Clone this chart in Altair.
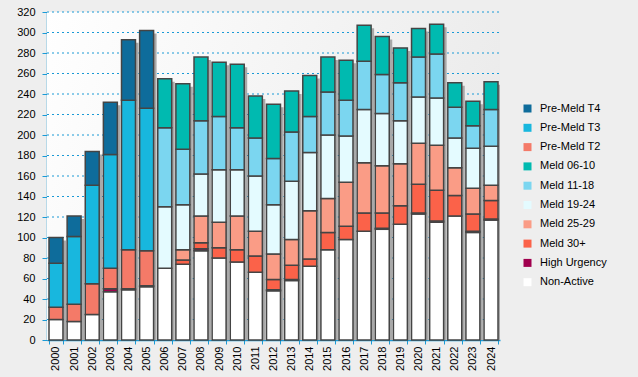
import altair as alt
import pandas as pd

years = [str(y) for y in range(2000, 2025)]

series_names = ["Pre-Meld T4", "Pre-Meld T3", "Pre-Meld T2", "Meld 06-10", "Meld 11-18",
                "Meld 19-24", "Meld 25-29", "Meld 30+", "High Urgency", "Non-Active"]
series_colors = ["#0e6c9b", "#18b7de", "#f47a68", "#00bab0", "#7bd6f0",
                 "#e4fbff", "#fa9c86", "#fb6249", "#a0004e", "#ffffff"]

y_ticks = [0, 20, 40, 60, 80, 100, 120, 140, 160, 180, 200, 220, 240, 260, 280, 300, 320]

non_active = [20, 18, 25, 47, 49, 52, 70, 74, 87, 80, 76, 66, 48, 58, 72, 88, 98, 106, 108, 113, 123, 115, 121, 105, 117]
high_urgency = [0, 0, 0, 3, 1, 1, 0, 0, 2, 0, 0, 0, 1, 1, 0, 0, 0, 0, 1, 0, 1, 1, 0, 1, 1]
meld_30 = [0, 0, 0, 0, 0, 0, 0, 4, 6, 10, 12, 16, 10, 14, 7, 17, 13, 18, 15, 18, 28, 30, 20, 17, 18]
meld_25_29 = [0, 0, 0, 0, 0, 0, 0, 10, 26, 25, 33, 24, 25, 25, 47, 33, 43, 49, 46, 41, 40, 44, 27, 25, 15]
meld_19_24 = [0, 0, 0, 0, 0, 0, 60, 44, 41, 51, 45, 54, 48, 57, 57, 62, 45, 52, 51, 42, 45, 46, 29, 39, 38]
meld_11_18 = [0, 0, 0, 0, 0, 0, 77, 54, 52, 52, 41, 37, 45, 48, 35, 42, 35, 47, 38, 37, 39, 43, 30, 22, 36]
meld_06_10 = [0, 0, 0, 0, 0, 0, 48, 64, 62, 53, 62, 41, 53, 40, 40, 34, 39, 35, 37, 34, 28, 29, 24, 24, 27]
pre_t2 = [12, 17, 30, 20, 38, 34] + [0] * 19
pre_t3 = [43, 66, 96, 111, 146, 139] + [0] * 19
pre_t4 = [25, 20, 33, 51, 59, 76] + [0] * 19

stack_series = [
    ("Non-Active", non_active),
    ("High Urgency", high_urgency),
    ("Meld 30+", meld_30),
    ("Meld 25-29", meld_25_29),
    ("Meld 19-24", meld_19_24),
    ("Meld 11-18", meld_11_18),
    ("Meld 06-10", meld_06_10),
    ("Pre-Meld T2", pre_t2),
    ("Pre-Meld T3", pre_t3),
    ("Pre-Meld T4", pre_t4),
]

rows = []
for order, (name, vals) in enumerate(stack_series):
    for yr, v in zip(years, vals):
        if v > 0:
            rows.append({"year": yr, "series": name, "value": v, "ord": order})
df = pd.DataFrame(rows)

W, H = 453, 328
BLUE = "#1a9ad6"

x_enc = alt.X("year:N", sort=years,
              scale=alt.Scale(paddingInner=0.23, paddingOuter=0.11),
              axis=alt.Axis(title=None, labelAngle=-90, tickBand="extent", tickSize=4,
                            labelPadding=2, grid=False))
y_scale = alt.Scale(domain=[0, 320], nice=False)
y_axis = alt.Axis(title=None, values=y_ticks, tickSize=5, labelPadding=7, grid=False,
                  labelOverlap=False)

bg = alt.Chart(pd.DataFrame({"a": [0]})).mark_rect(
    color=alt.LinearGradient(gradient="linear",
                             stops=[alt.GradientStop(color="#ffffff", offset=0),
                                    alt.GradientStop(color="#ebebeb", offset=1)],
                             x1=0, x2=1, y1=0, y2=0.3)
).encode(x=alt.value(0), x2=alt.value(W), y=alt.value(0), y2=alt.value(H))

grid = alt.Chart(pd.DataFrame({"t": y_ticks[1:]})).mark_rule(
    color=BLUE, strokeDash=[2, 3], strokeWidth=1
).encode(y=alt.Y("t:Q", scale=y_scale, axis=y_axis), x=alt.value(0), x2=alt.value(W))

shadow = alt.Chart(df).mark_bar(color="#a9a9a9", xOffset=3, yOffset=3, clip=True).encode(
    x=x_enc,
    y=alt.Y("sum(value):Q", scale=y_scale, stack=None, axis=y_axis),
)

bars = alt.Chart(df).mark_bar(stroke="#444444", strokeWidth=1.5).encode(
    x=x_enc,
    y=alt.Y("value:Q", scale=y_scale, stack="zero", axis=y_axis),
    color=alt.Color("series:N",
                    scale=alt.Scale(domain=series_names, range=series_colors),
                    legend=alt.Legend(title=None, orient="none", legendX=475, legendY=91,
                                      symbolType="square", symbolSize=64,
                                      symbolStrokeWidth=0, labelFontSize=11,
                                      labelOffset=7, rowPadding=7.3, padding=0)),
    order=alt.Order("ord:Q", sort="ascending"),
)

chart = alt.layer(bg, grid, shadow, bars).properties(
    width=W, height=H,
    autosize=alt.AutoSizeParams(type="none"),
    padding={"left": 47, "top": 12, "right": 138, "bottom": 37},
    background="#eeeeee",
).configure_view(stroke=None).configure_axis(
    domainColor=BLUE, tickColor=BLUE, domainWidth=1.5,
    labelFont="Liberation Sans", labelFontSize=11, labelColor="#000000",
).configure_legend(
    labelFont="Liberation Sans", labelColor="#000000"
)

chart.save("out.html", embed_options={"renderer": "svg", "actions": False})
